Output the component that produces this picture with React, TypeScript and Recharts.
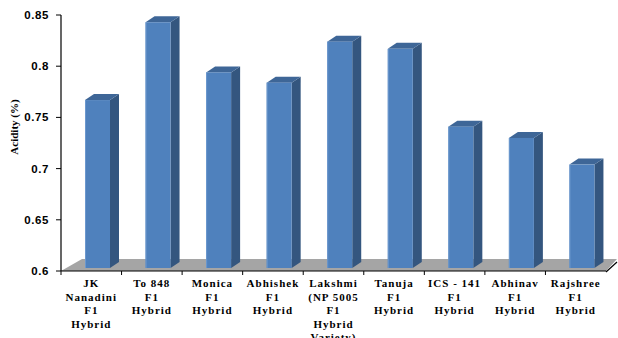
import React from 'react';
import { BarChart, Bar, XAxis, YAxis, ReferenceArea } from 'recharts';

const categoryLines: string[][] = [
  ['JK', 'Nanadini', 'F1', 'Hybrid'],
  ['To 848', 'F1', 'Hybrid'],
  ['Monica', 'F1', 'Hybrid'],
  ['Abhishek', 'F1', 'Hybrid'],
  ['Lakshmi', '(NP 5005', 'F1', 'Hybrid', 'Variety)'],
  ['Tanuja', 'F1', 'Hybrid'],
  ['ICS - 141', 'F1', 'Hybrid'],
  ['Abhinav', 'F1', 'Hybrid'],
  ['Rajshree', 'F1', 'Hybrid'],
];
const acidity: number[] = [0.764, 0.84, 0.791, 0.781, 0.821, 0.814, 0.738, 0.727, 0.701];
const yTicks: number[] = [0.6, 0.65, 0.7, 0.75, 0.8, 0.85];
const yLabel = 'Acidity (%)';

const data = categoryLines.map((lines, i) => ({ name: lines.join(' '), acidity: acidity[i] }));
const linesByName: Record<string, string[]> = {};
categoryLines.forEach((l) => (linesByName[l.join(' ')] = l));

const FRONT = '#4F81BD';
const SIDE = '#34567F';
const TOP = '#3E6697';
const DX = 9;
const DY = 6;
const SHIFT_X = 6;
const SHIFT_Y = 3;

const Bar3D = (props: any) => {
  const { x, y, width, height } = props;
  if (x == null || y == null) return null;
  const fx = x + SHIFT_X;
  const fy = y - SHIFT_Y;
  const fb = y + height - SHIFT_Y;
  const w = width;
  return (
    <g>
      <polygon
        points={`${fx + w},${fy} ${fx + w + DX},${fy - DY} ${fx + w + DX},${fb - DY} ${fx + w},${fb}`}
        fill={SIDE}
      />
      <polygon
        points={`${fx},${fy} ${fx + DX},${fy - DY} ${fx + w + DX},${fy - DY} ${fx + w},${fy}`}
        fill={TOP}
      />
      <rect x={fx} y={fy} width={w} height={fb - fy} fill={FRONT} />
      <line x1={fx + 0.5} y1={fy} x2={fx + 0.5} y2={fb} stroke="#6C98CE" strokeWidth={1} />
    </g>
  );
};

const Floor = (props: any) => {
  const { x, y, width, height } = props;
  const b = y + height;
  const r = x + width;
  return (
    <g>
      <polygon
        points={`${x},${b} ${r},${b} ${r + 11},${b - 12} ${x + 21},${b - 12}`}
        fill="#A5A5A5"
      />
      <line x1={r} y1={b + 1} x2={r + 11} y2={b - 9} stroke="#000" strokeWidth={1.2} />
    </g>
  );
};

const XTick = (props: any) => {
  const { x, y, payload, width, visibleTicksCount } = props;
  const lines = linesByName[payload.value] || [String(payload.value)];
  const n = visibleTicksCount || categoryLines.length;
  const bw = (width || 545) / n;
  return (
    <g>
      <line x1={x - bw / 2} y1={y - 8} x2={x - bw / 2} y2={y - 4} stroke="#000" />
      <text
        x={x}
        y={y}
        textAnchor="middle"
        fontFamily="'Liberation Serif', 'Times New Roman', serif"
        fontWeight="bold"
        fontSize={11}
        letterSpacing={1}
        fill="#000"
      >
        {lines.map((l, i) => (
          <tspan key={i} x={x} dy={i === 0 ? 8 : 13.5}>
            {l}
          </tspan>
        ))}
      </text>
    </g>
  );
};

const YTick = (props: any) => {
  const { x, y, payload } = props;
  return (
    <text
      x={x}
      y={y}
      dy={4}
      textAnchor="end"
      fontFamily="'Liberation Sans', Arial, sans-serif"
      fontWeight="bold"
      fontSize={11.5}
      letterSpacing={0.6}
      fill="#000"
    >
      {String(payload.value)}
    </text>
  );
};

const YLabel = (props: any) => {
  const vb = props.viewBox || {};
  const cx = (vb.x || 0) + 14;
  const cy = (vb.y || 0) + (vb.height || 0) / 2 - 16;
  return (
    <text
      x={cx}
      y={cy}
      transform={`rotate(-90, ${cx}, ${cy})`}
      textAnchor="middle"
      dominantBaseline="central"
      fontFamily="'Liberation Serif', 'Times New Roman', serif"
      fontWeight="bold"
      fontSize={11}
      fill="#000"
    >
      {yLabel}
    </text>
  );
};

export default function App() {
  return (
    <div style={{ position: 'absolute', left: 0, top: 0, width: 618, height: 338, background: '#fff' }}>
      <BarChart
        width={618}
        height={338}
        data={data}
        margin={{ top: 15, right: 12, left: 0, bottom: 0 }}
        barCategoryGap={0}
      >
        <ReferenceArea y1={0.6} y2={0.85} shape={<Floor />} ifOverflow="visible" />
        <XAxis
          dataKey="name"
          interval={0}
          height={67}
          tick={<XTick />}
          tickLine={false}
          axisLine={{ stroke: '#000', strokeWidth: 1.2 }}
        />
        <YAxis
          width={61}
          domain={[0.6, 0.85]}
          ticks={yTicks}
          allowDataOverflow
          tick={<YTick />}
          tickSize={5}
          tickMargin={7}
          tickLine={{ stroke: '#000' }}
          axisLine={{ stroke: '#000', strokeWidth: 1.2 }}
          label={<YLabel />}
        />
        <Bar dataKey="acidity" barSize={25} shape={<Bar3D />} isAnimationActive={false} />
      </BarChart>
    </div>
  );
}
